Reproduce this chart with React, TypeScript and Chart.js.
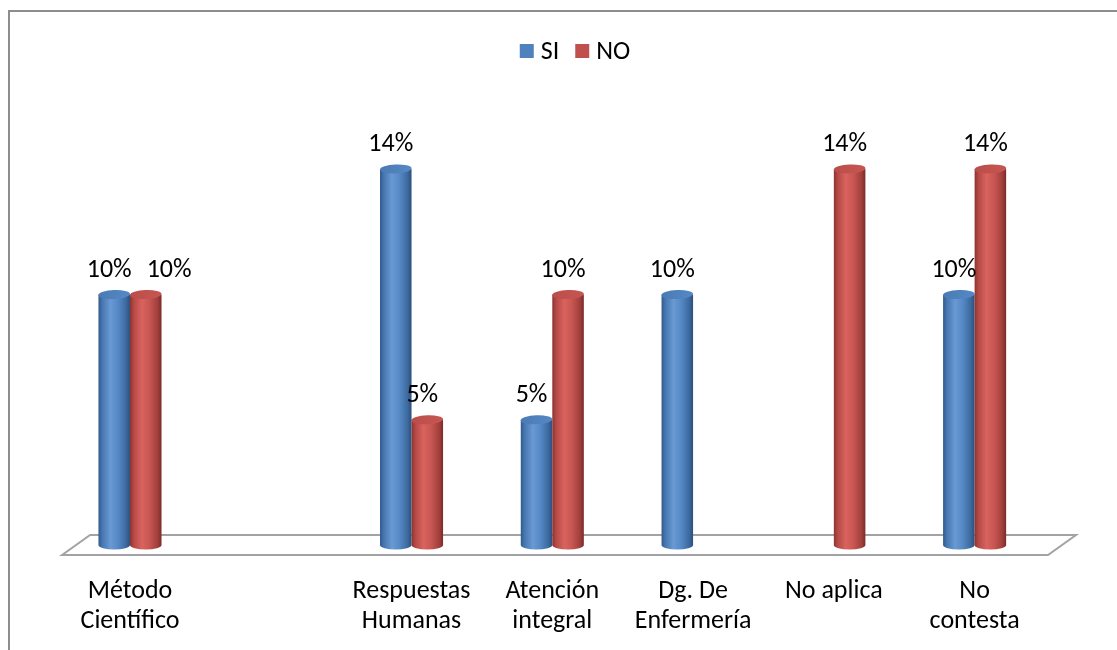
import { useEffect, useRef } from "react";
import { Chart, registerables } from "chart.js";

Chart.register(...registerables);

// Categories (the blank one keeps its slot on the axis)
const categories: (string | string[])[] = [
  ["Método", "Científico"],
  "",
  ["Respuestas", "Humanas"],
  ["Atención", "integral"],
  ["Dg. De", "Enfermería"],
  "No aplica",
  ["No", "contesta"],
];

// Percent of respondents (21 answers: 1/21, 2/21, 3/21)
const siValues: (number | null)[] = [9.52, null, 14.29, 4.76, 9.52, null, 9.52];
const noValues: (number | null)[] = [9.52, null, 4.76, 9.52, null, 14.29, 14.29];

const seriesNames = ["SI", "NO"];
const seriesColors = ["#4F81BD", "#C0504D"];

const FONT = "Carlito, Calibri, Lato, sans-serif";
const FONT_SIZE = 26;

type Shade = { stops: [number, string][]; cap: string };
const shades: Shade[] = [
  {
    stops: [
      [0, "#33598a"],
      [0.12, "#4677b1"],
      [0.38, "#6a99d3"],
      [0.62, "#5589c6"],
      [0.88, "#3c699e"],
      [1, "#2b4f7e"],
    ],
    cap: "#4a7ab3",
  },
  {
    stops: [
      [0, "#8a3431"],
      [0.12, "#b54946"],
      [0.38, "#d9635e"],
      [0.62, "#c85652"],
      [0.88, "#a03f3c"],
      [1, "#7a2b29"],
    ],
    cap: "#b94d4a",
  },
];

function drawCylinder(
  ctx: CanvasRenderingContext2D,
  cx: number,
  top: number,
  base: number,
  w: number,
  shade: Shade
) {
  const rx = w / 2;
  const ry = 4.5;
  const left = cx - rx;
  const right = cx + rx;
  const grad = ctx.createLinearGradient(left, 0, right, 0);
  shade.stops.forEach(([p, c]) => grad.addColorStop(p, c));
  ctx.save();
  ctx.beginPath();
  ctx.moveTo(left, top);
  ctx.lineTo(left, base);
  ctx.ellipse(cx, base, rx, ry, 0, Math.PI, 0, true);
  ctx.lineTo(right, top);
  ctx.closePath();
  ctx.fillStyle = grad;
  ctx.fill();
  // top cap
  const capGrad = ctx.createLinearGradient(left, top - ry, right, top + ry);
  capGrad.addColorStop(0, shade.cap);
  capGrad.addColorStop(1, shade.stops[3][1]);
  ctx.beginPath();
  ctx.ellipse(cx, top, rx, ry, -0.04, 0, Math.PI * 2);
  ctx.fillStyle = capGrad;
  ctx.fill();
  ctx.restore();
}

const frameAndFloor = {
  id: "frameAndFloor",
  beforeDraw(chart: any) {
    const ctx = chart.ctx as CanvasRenderingContext2D;
    ctx.save();
    ctx.strokeStyle = "#8d8d8d";
    ctx.lineWidth = 2;
    ctx.strokeRect(9, 11, 1300, 800);
    ctx.restore();
  },
  beforeDatasetsDraw(chart: any) {
    const ctx = chart.ctx as CanvasRenderingContext2D;
    const area = chart.chartArea;
    const base = chart.scales.y.getPixelForValue(0);
    const fl = area.left + 2.5;
    const fr = area.right + 3;
    const depth = 28;
    const half = 10;
    ctx.save();
    ctx.beginPath();
    ctx.moveTo(fl, base + half);
    ctx.lineTo(fr, base + half);
    ctx.lineTo(fr + depth, base - half);
    ctx.lineTo(fl + depth, base - half);
    ctx.closePath();
    ctx.fillStyle = "#ffffff";
    ctx.fill();
    ctx.strokeStyle = "#a3a3a3";
    ctx.lineWidth = 2;
    ctx.stroke();
    ctx.restore();
  },
  beforeDatasetDraw() {
    // flat bars are replaced by cylinders below
    return false;
  },
  afterDatasetsDraw(chart: any) {
    const ctx = chart.ctx as CanvasRenderingContext2D;
    const base = chart.scales.y.getPixelForValue(0);
    chart.data.datasets.forEach((ds: any, di: number) => {
      const meta = chart.getDatasetMeta(di);
      meta.data.forEach((el: any, i: number) => {
        const v = ds.data[i];
        if (v === null || v === undefined) return;
        const p = el.getProps(["x", "y", "width"], true);
        drawCylinder(ctx, p.x, p.y, base, p.width, shades[di]);
      });
    });

    // value labels, pushed apart where two would collide
    ctx.save();
    ctx.font = `${FONT_SIZE}px ${FONT}`;
    ctx.fillStyle = "#000000";
    ctx.textAlign = "center";
    ctx.textBaseline = "middle";
    const n = chart.data.labels.length;
    for (let i = 0; i < n; i++) {
      let prev: { right: number; y: number } | null = null;
      chart.data.datasets.forEach((ds: any, di: number) => {
        const v = ds.data[i];
        if (v === null || v === undefined) return;
        const el = chart.getDatasetMeta(di).data[i];
        const p = el.getProps(["x", "y"], true);
        const text = `${Math.round(v)}%`;
        const w = ctx.measureText(text).width;
        let cx = p.x - 5;
        const cy = p.y - 24;
        if (prev && Math.abs(prev.y - cy) < 20 && cx - w / 2 < prev.right) {
          cx = prev.right + 15 + w / 2;
        }
        ctx.fillText(text, cx, cy);
        prev = { right: cx + w / 2, y: cy };
      });
    }
    ctx.restore();
  },
  afterDraw(chart: any) {
    // legend row
    const ctx = chart.ctx as CanvasRenderingContext2D;
    ctx.save();
    ctx.font = `${FONT_SIZE}px ${FONT}`;
    ctx.textBaseline = "middle";
    ctx.textAlign = "left";
    const box = 14;
    const gapText = 7;
    const gapItem = 16;
    const items = chart.data.datasets.map((ds: any) => ({
      label: ds.label as string,
      color: ds.backgroundColor as string,
      w: ctx.measureText(ds.label).width,
    }));
    const total =
      items.reduce((s: number, it: any) => s + box + gapText + it.w, 0) +
      gapItem * (items.length - 1);
    let x = 575 - total / 2;
    const y = 51;
    items.forEach((it: any) => {
      ctx.fillStyle = it.color;
      ctx.fillRect(x, y - box / 2, box, box);
      ctx.fillStyle = "#000000";
      ctx.fillText(it.label, x + box + gapText, y + 1);
      x += box + gapText + it.w + gapItem;
    });
    ctx.restore();
  },
};

export default function App() {
  const ref = useRef<HTMLCanvasElement | null>(null);

  useEffect(() => {
    if (!ref.current) return;
    const chart = new Chart(ref.current, {
      type: "bar",
      data: {
        labels: categories,
        datasets: [
          { label: seriesNames[0], data: siValues, backgroundColor: seriesColors[0] },
          { label: seriesNames[1], data: noValues, backgroundColor: seriesColors[1] },
        ],
      },
      options: {
        animation: false,
        responsive: false,
        layout: { padding: { left: 59.6, right: 72, top: 124, bottom: 15 } },
        datasets: { bar: { categoryPercentage: 0.448, barPercentage: 1 } },
        plugins: { legend: { display: false }, tooltip: { enabled: false } },
        scales: {
          x: {
            grid: { display: false, drawTicks: false },
            border: { display: false },
            afterFit(scale: any) {
              scale.height = 90;
            },
            ticks: {
              autoSkip: false,
              maxRotation: 0,
              minRotation: 0,
              padding: 31,
              color: "#000000",
              font: { family: FONT, size: FONT_SIZE, lineHeight: 30 / FONT_SIZE },
            },
          },
          y: { display: false, min: 0, max: 16 },
        },
      },
      plugins: [frameAndFloor],
    });
    return () => chart.destroy();
  }, []);

  return (
    <div
      style={{
        position: "fixed",
        left: 0,
        top: 0,
        width: 1117,
        height: 650,
        background: "#ffffff",
      }}
    >
      <canvas ref={ref} width={1117} height={650} style={{ display: "block" }} />
    </div>
  );
}
